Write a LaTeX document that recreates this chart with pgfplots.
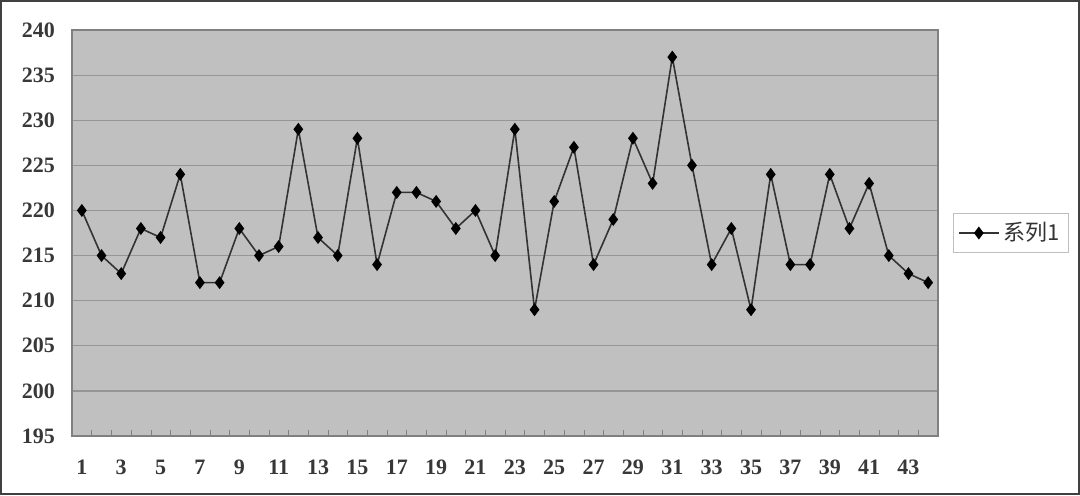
\documentclass[border=0pt]{standalone}
\usepackage{pgfplots}
\pgfplotsset{compat=1.18}
\usepackage{fontspec}
\setmainfont{Liberation Serif}
\newfontfamily\cjk{Noto Sans CJK SC}
\definecolor{plotbg}{HTML}{C0C0C0}
\definecolor{gridc}{HTML}{969696}
\definecolor{framec}{HTML}{808080}
\begin{document}
\begin{tikzpicture}
\draw[line width=1.2pt, color=black!75] (0.6pt,0.6pt) rectangle (539.4pt,246.9pt);
\begin{axis}[
  at={(36pt,29.5pt)}, anchor=south west,
  scale only axis, width=433pt, height=203pt,
  xmin=0.5, xmax=44.5, ymin=195, ymax=240,
  ytick={195,200,...,240},
  xtick={1,3,...,43},
  minor xtick={0.5,1.5,...,44.5},
  major x tick style={draw=none},
  minor tick length=3pt,
  tick align=inside,
  xtick pos=lower,
  ytick pos=left,
  major y tick style={draw=none},
  ymajorgrids, grid style={gridc, line width=0.6pt},
  axis background/.style={fill=plotbg},
  axis line style={framec, line width=0.7pt},
  minor tick style={framec},
  tick label style={font=\fontsize{11}{13}\selectfont\bfseries, text=black!78},
  /pgf/number format/assume math mode=true,
  xticklabel style={yshift=-8.5pt},
  yticklabel style={xshift=-5pt},
  legend style={at={(1.017,0.5)}, anchor=west, draw=black!25, fill=white,
     font=\cjk\fontsize{11}{13}\selectfont, text=black!80, inner sep=2.5pt},
  legend image code/.code={
     \draw[mark repeat=2,mark phase=2,#1] plot coordinates {(0cm,0cm) (0.35cm,0cm) (0.7cm,0cm)};},
  legend cell align=left,
  clip=false,
]
\addplot[black!80, line width=0.8pt, mark=diamond*, mark size=2.6pt, mark options={fill=black, draw=black}]
coordinates {
(1,220)(2,215)(3,213)(4,218)(5,217)(6,224)(7,212)(8,212)(9,218)(10,215)
(11,216)(12,229)(13,217)(14,215)(15,228)(16,214)(17,222)(18,222)(19,221)(20,218)
(21,220)(22,215)(23,229)(24,209)(25,221)(26,227)(27,214)(28,219)(29,228)(30,223)
(31,237)(32,225)(33,214)(34,218)(35,209)(36,224)(37,214)(38,214)(39,224)(40,218)
(41,223)(42,215)(43,213)(44,212)
};
\addlegendentry{系列1}
\end{axis}
\end{tikzpicture}
\end{document}
